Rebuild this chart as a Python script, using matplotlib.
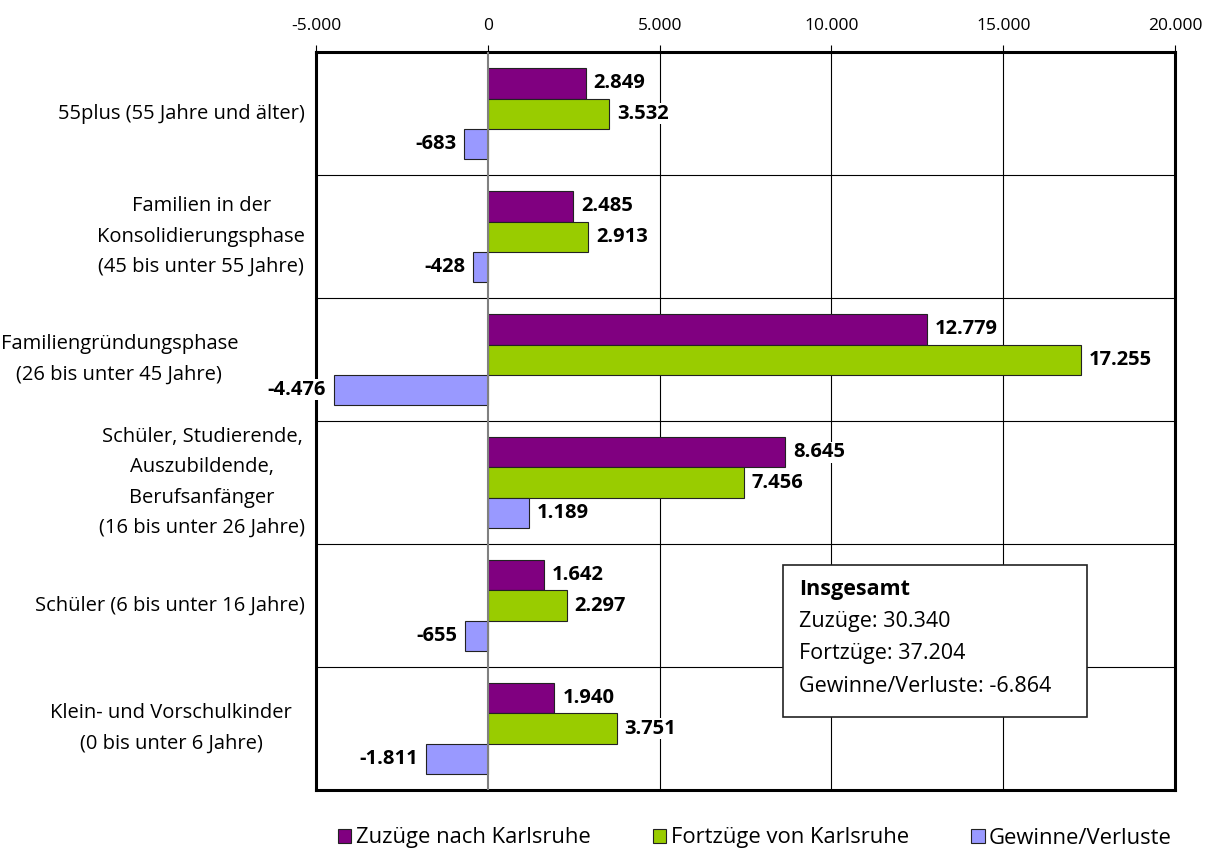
import numpy as np
import matplotlib.pyplot as plt
from matplotlib.patches import Rectangle
from matplotlib.ticker import FuncFormatter

plt.rcParams['font.family'] = ['Open Sans', 'DejaVu Sans']

# Data (top to bottom)
groups = ['55plus (55 Jahre und älter)',
          'Familien in der\nKonsolidierungsphase\n(45 bis unter 55 Jahre)',
          'Familiengründungsphase\n(26 bis unter 45 Jahre)',
          'Schüler, Studierende,\nAuszubildende,\nBerufsanfänger\n(16 bis unter 26 Jahre)',
          'Schüler (6 bis unter 16 Jahre)',
          'Klein- und Vorschulkinder\n(0 bis unter 6 Jahre)']
zuzuege = [2849, 2485, 12779, 8645, 1642, 1940]
fortzuege = [3532, 2913, 17255, 7456, 2297, 3751]
saldo = [-683, -428, -4476, 1189, -655, -1811]
series_names = ['Zuzüge nach Karlsruhe', 'Fortzüge von Karlsruhe', 'Gewinne/Verluste']
colors = ['#800080', '#99CC00', '#9999FF']

total_zu = 30340
total_fort = 37204
total_saldo = -6864


def de_fmt(v):
    s = f'{abs(v):,.0f}'.replace(',', '.')
    return ('-' if v < 0 else '') + s


fig = plt.figure(figsize=(12.09, 8.6), dpi=100)
ax = fig.add_axes([0.2614, 0.0814, 0.7105, 0.858])

n = len(groups)
y = np.arange(n)
h = 0.245
for i, (vals, col, name) in enumerate(zip([zuzuege, fortzuege, saldo], colors, series_names)):
    pos = y + (i - 1) * h
    ax.barh(pos, vals, height=h, color=col, edgecolor='#222222', linewidth=0.8,
            label=name, zorder=3)
    for p, v in zip(pos, vals):
        off = 230 if v >= 0 else -230
        ax.text(v + off, p, de_fmt(v), ha='left' if v >= 0 else 'right',
                va='center', fontsize=14.5, fontweight='bold', zorder=4,
                clip_on=False,
                bbox=dict(facecolor='white', edgecolor='none', pad=0.5))

ax.set_xlim(-5000, 20000)
ax.set_ylim(n - 0.5, -0.5)
ax.xaxis.tick_top()
ax.set_xticks(np.arange(-5000, 20001, 5000))
ax.xaxis.set_major_formatter(FuncFormatter(lambda v, _: de_fmt(v)))
ax.tick_params(axis='x', length=5, width=0.8, labelsize=12.5, pad=8, color='black')
ax.set_yticks([])

# vertical grid and group separators
for xv in [5000, 10000, 15000]:
    ax.axvline(xv, color='black', linewidth=0.8, zorder=1)
ax.axvline(0, color='#808080', linewidth=1.5, zorder=5)
for yb in np.arange(0.5, n - 0.5, 1):
    ax.axhline(yb, color='black', linewidth=0.8, zorder=1)

for s in ax.spines.values():
    s.set_linewidth(2.2)
    s.set_zorder(2)

# category labels; some are pushed left to clear the bar labels
label_x = [-0.0128, -0.0128, -0.0908, -0.0128, -0.0128, -0.028]
for yi, g, lx in zip(y, groups, label_x):
    ax.text(lx, yi, g, transform=ax.get_yaxis_transform(), ha='right',
            va='center', multialignment='center', fontsize=14.5, linespacing=1.68)

# summary box
fig.patches.append(Rectangle((783 / 1209, 1 - 717 / 860), 304 / 1209, 152 / 860,
                             transform=fig.transFigure, facecolor='white',
                             edgecolor='#222222', linewidth=1.2, zorder=6))
bx = 799 / 1209
fig.text(bx, 1 - 590 / 860, 'Insgesamt', fontsize=15.5, fontweight='bold',
         va='center', zorder=7)
fig.text(bx, 1 - 622 / 860, f'Zuzüge: {de_fmt(total_zu)}', fontsize=15.5,
         va='center', zorder=7)
fig.text(bx, 1 - 654 / 860, f'Fortzüge: {de_fmt(total_fort)}', fontsize=15.5,
         va='center', zorder=7)
fig.text(bx, 1 - 686 / 860, f'Gewinne/Verluste: {de_fmt(total_saldo)}',
         fontsize=15.5, va='center', zorder=7)

fig.legend(loc='center', bbox_to_anchor=(0.6245, 1 - 838 / 860), ncol=3,
           frameon=False, fontsize=15.8, handlelength=0.6, handleheight=0.6,
           handletextpad=0.2, columnspacing=2.85)

fig.savefig('out.png', dpi=100)
